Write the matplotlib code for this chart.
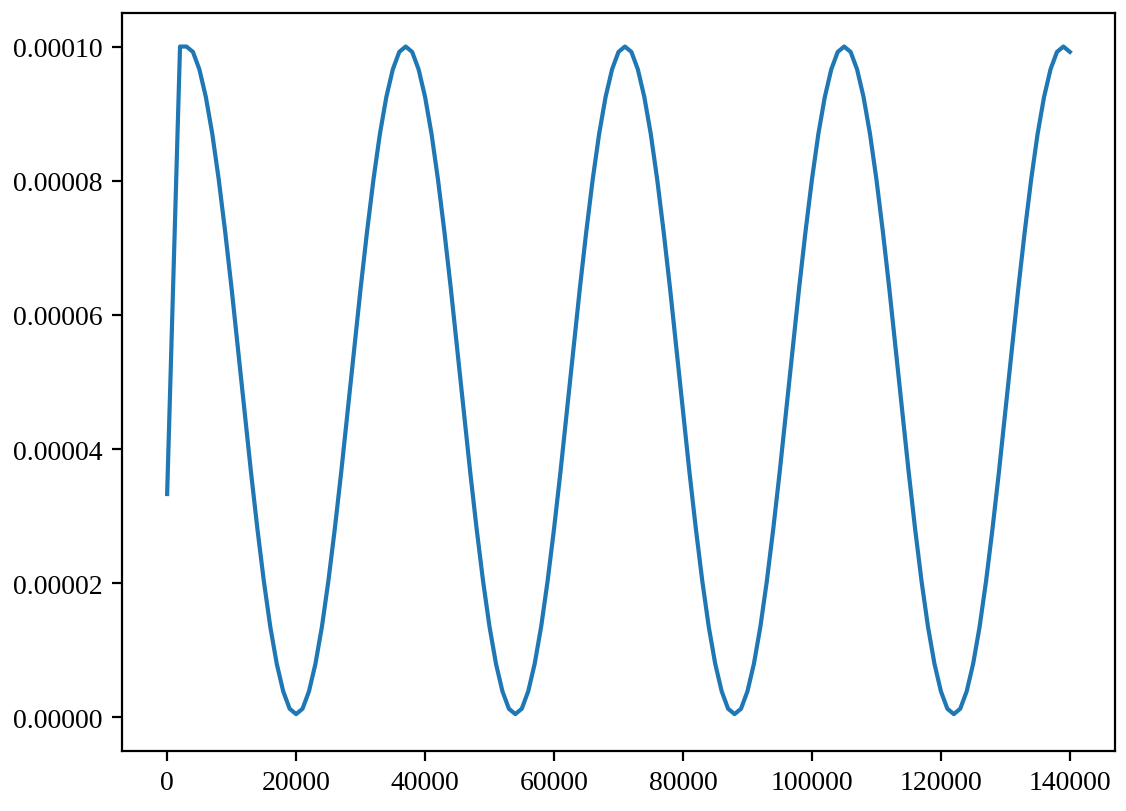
import matplotlib
matplotlib.use("Agg")
import matplotlib.pyplot as plt

plt.rcParams['font.family'] = ['Liberation Serif', 'DejaVu Serif']
plt.rcParams['font.size'] = 10

# training step (sampled every 1000 steps)
steps = list(range(0, 141000, 1000))

# learning rate, in units of 1e-5
lr_e5 = [
    3.33, 6.67, 10.00,
    # cycle 1 (3000 .. 36000)
    10.00, 9.92, 9.66, 9.25, 8.70, 8.02, 7.24, 6.39, 5.48, 4.57, 3.66, 2.81, 2.03, 1.35, 0.80, 0.39, 0.13,
    0.05, 0.13, 0.39, 0.80, 1.35, 2.03, 2.81, 3.66, 4.57, 5.48, 6.39, 7.24, 8.02, 8.70, 9.25, 9.66, 9.92,
    # cycle 2 (37000 .. 70000)
    10.00, 9.92, 9.66, 9.25, 8.70, 8.02, 7.24, 6.39, 5.48, 4.57, 3.66, 2.81, 2.03, 1.35, 0.80, 0.39, 0.13,
    0.05, 0.13, 0.39, 0.80, 1.35, 2.03, 2.81, 3.66, 4.57, 5.48, 6.39, 7.24, 8.02, 8.70, 9.25, 9.66, 9.92,
    # cycle 3 (71000 .. 104000)
    10.00, 9.92, 9.66, 9.25, 8.70, 8.02, 7.24, 6.39, 5.48, 4.57, 3.66, 2.81, 2.03, 1.35, 0.80, 0.39, 0.13,
    0.05, 0.13, 0.39, 0.80, 1.35, 2.03, 2.81, 3.66, 4.57, 5.48, 6.39, 7.24, 8.02, 8.70, 9.25, 9.66, 9.92,
    # cycle 4 (105000 .. 138000)
    10.00, 9.92, 9.66, 9.25, 8.70, 8.02, 7.24, 6.39, 5.48, 4.57, 3.66, 2.81, 2.03, 1.35, 0.80, 0.39, 0.13,
    0.05, 0.13, 0.39, 0.80, 1.35, 2.03, 2.81, 3.66, 4.57, 5.48, 6.39, 7.24, 8.02, 8.70, 9.25, 9.66, 9.92,
    # tail (139000, 140000)
    10.00, 9.92,
]
lr = [v * 1e-5 for v in lr_e5]

fig = plt.figure(figsize=(5.63, 4.06), dpi=200)
ax = fig.add_axes([122 / 1126, 1 - 752 / 812, 993 / 1126, 738 / 812])
ax.plot(steps, lr, color='#1f77b4', linewidth=1.5)
ax.set_xlim(-7000, 147000)
ax.set_ylim(-5e-6, 1.05e-4)
ax.set_xticks([0, 20000, 40000, 60000, 80000, 100000, 120000, 140000])
ax.set_yticks([0, 2e-5, 4e-5, 6e-5, 8e-5, 1e-4])
ax.set_yticklabels(['0.00000', '0.00002', '0.00004', '0.00006', '0.00008', '0.00010'])
fig.savefig('out.png', dpi=200)
